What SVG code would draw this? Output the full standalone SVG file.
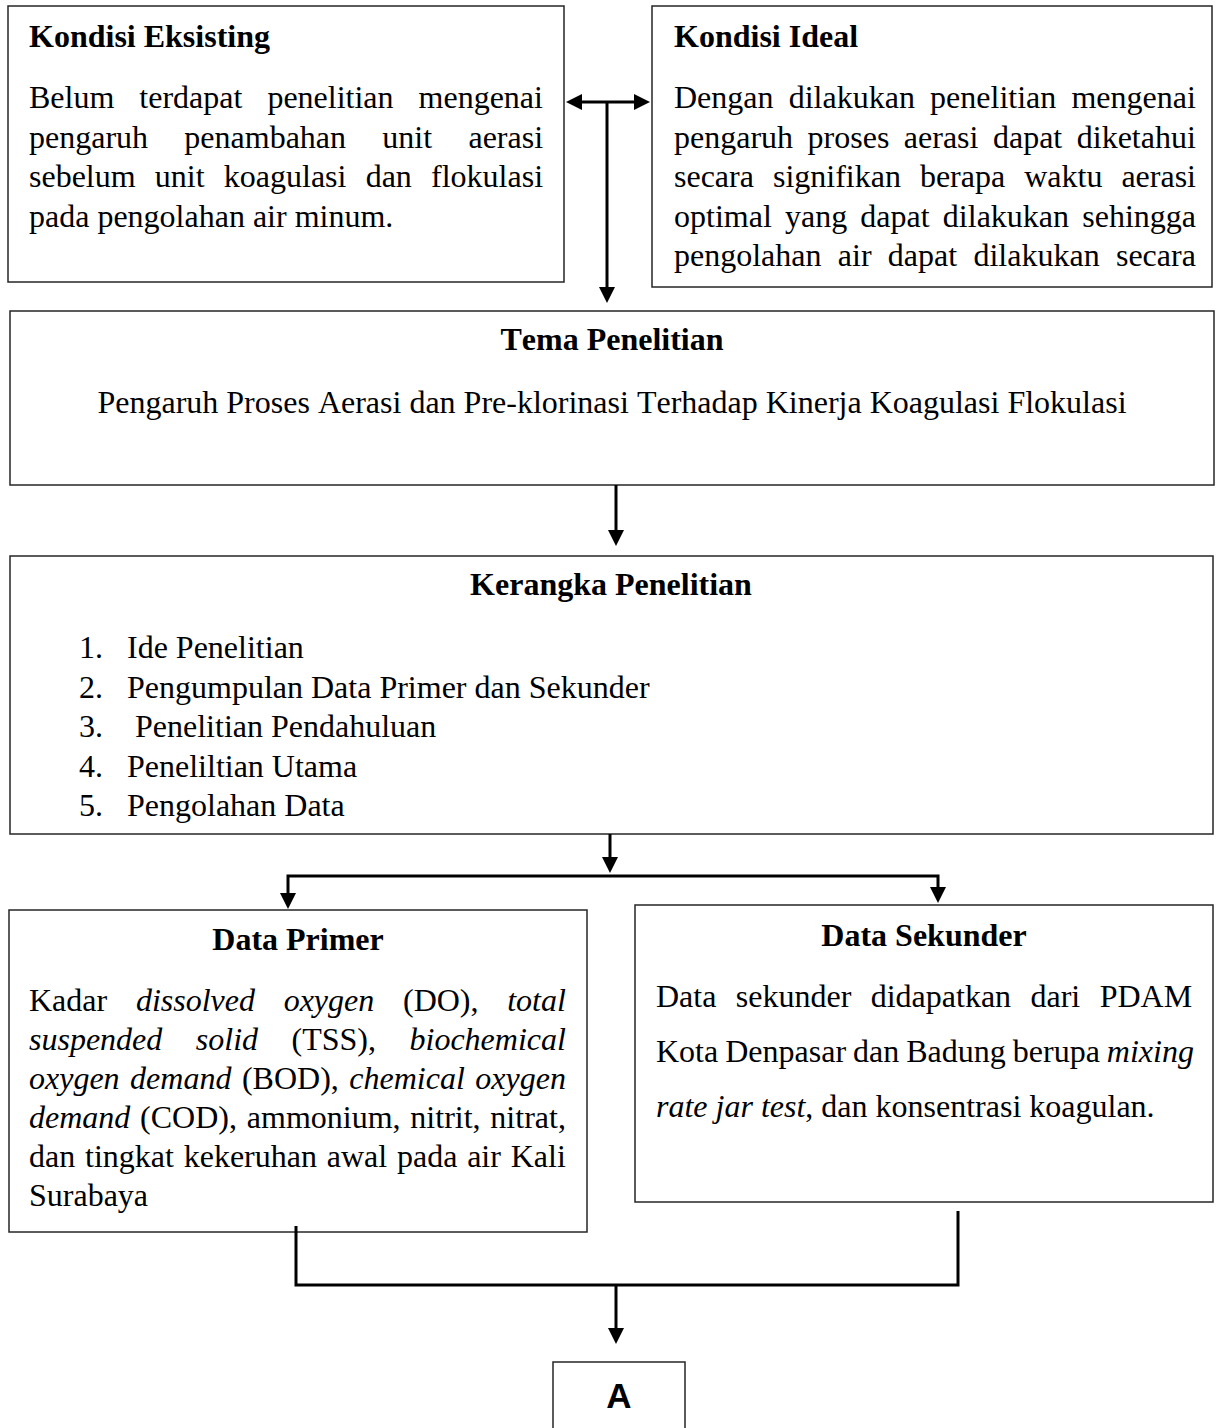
<svg xmlns="http://www.w3.org/2000/svg" width="1217" height="1428" viewBox="0 0 1217 1428">
<style>
.box{fill:#fff;stroke:#262626;stroke-width:1.5}
.t{font-family:"Liberation Serif","Times New Roman",serif;font-size:32px;fill:#000;font-kerning:none}
.b{font-weight:bold}
.i{font-style:italic}
.c{text-anchor:middle}
.conn{fill:none;stroke:#000;stroke-width:3}
.arr{marker-end:url(#ah)}
</style>
<defs>
<marker id="ah" markerUnits="userSpaceOnUse" markerWidth="16" markerHeight="16" refX="0" refY="8" orient="auto-start-reverse" viewBox="0 0 16 16">
<path d="M0,0 L16,8 L0,16 z" fill="#000"/>
</marker>
</defs>
<rect width="1217" height="1428" fill="#fff"/>

<g id="kondisi-eksisting">
<rect class="box" x="8" y="6" width="556" height="276"/>
<text class="t b" x="29" y="47">Kondisi Eksisting</text>
<text class="t" x="29" y="108" word-spacing="17">Belum terdapat penelitian mengenai</text>
<text class="t" x="29" y="147.5" word-spacing="28.3">pengaruh penambahan unit aerasi</text>
<text class="t" x="29" y="187" word-spacing="11.2">sebelum unit koagulasi dan flokulasi</text>
<text class="t" x="29" y="226.5">pada pengolahan air minum.</text>
</g>

<g id="kondisi-ideal">
<rect class="box" x="652" y="6" width="560" height="281"/>
<text class="t b" x="674" y="47">Kondisi Ideal</text>
<text class="t" x="674" y="108" word-spacing="7.2">Dengan dilakukan penelitian mengenai</text>
<text class="t" x="674" y="147.5" word-spacing="6.5">pengaruh proses aerasi dapat diketahui</text>
<text class="t" x="674" y="187" word-spacing="11">secara signifikan berapa waktu aerasi</text>
<text class="t" x="674" y="226.5" word-spacing="5.2">optimal yang dapat dilakukan sehingga</text>
<text class="t" x="674" y="266" word-spacing="8.3">pengolahan air dapat dilakukan secara</text>
</g>

<g id="tema-penelitian">
<rect class="box" x="10" y="311" width="1204" height="174"/>
<text class="t b c" x="612" y="350">Tema Penelitian</text>
<text class="t c" x="612" y="413">Pengaruh Proses Aerasi dan Pre-klorinasi Terhadap Kinerja Koagulasi Flokulasi</text>
</g>

<g id="kerangka-penelitian">
<rect class="box" x="10" y="556" width="1203" height="278"/>
<text class="t b c" x="611" y="595">Kerangka Penelitian</text>
<text class="t" x="79" y="658">1.</text><text class="t" x="127" y="658">Ide Penelitian</text>
<text class="t" x="79" y="697.5">2.</text><text class="t" x="127" y="697.5">Pengumpulan Data Primer dan Sekunder</text>
<text class="t" x="79" y="737">3.</text><text class="t" x="135" y="737">Penelitian Pendahuluan</text>
<text class="t" x="79" y="776.5">4.</text><text class="t" x="127" y="776.5">Peneliltian Utama</text>
<text class="t" x="79" y="816">5.</text><text class="t" x="127" y="816">Pengolahan Data</text>
</g>

<g id="data-primer">
<rect class="box" x="9" y="910" width="578" height="322"/>
<text class="t b c" x="298" y="950">Data Primer</text>
<text class="t" x="29" y="1011" word-spacing="20.7">Kadar <tspan class="i">dissolved oxygen</tspan> (DO), <tspan class="i">total</tspan></text>
<text class="t" x="29" y="1050" word-spacing="25.5"><tspan class="i">suspended solid</tspan> (TSS), <tspan class="i">biochemical</tspan></text>
<text class="t" x="29" y="1089" word-spacing="2.5"><tspan class="i">oxygen demand</tspan> (BOD), <tspan class="i">chemical oxygen</tspan></text>
<text class="t" x="29" y="1128" word-spacing="1.8"><tspan class="i">demand</tspan> (COD), ammonium, nitrit, nitrat,</text>
<text class="t" x="29" y="1167" word-spacing="1.8">dan tingkat kekeruhan awal pada air Kali</text>
<text class="t" x="29" y="1206">Surabaya</text>
</g>

<g id="data-sekunder">
<rect class="box" x="635" y="905" width="578" height="297"/>
<text class="t b c" x="924" y="946">Data Sekunder</text>
<text class="t" x="656" y="1007" word-spacing="11.4">Data sekunder didapatkan dari PDAM</text>
<text class="t" x="656" y="1062" word-spacing="-1">Kota Denpasar dan Badung berupa <tspan class="i">mixing</tspan></text>
<text class="t" x="656" y="1117"><tspan class="i">rate jar test</tspan>, dan konsentrasi koagulan.</text>
</g>

<g id="a">
<rect class="box" x="553" y="1362" width="132" height="90"/>
<text x="619" y="1408" text-anchor="middle" font-family="'Liberation Sans',Arial,sans-serif" font-weight="bold" font-size="35">A</text>
</g>

<g id="connectors">
<path class="conn" d="M582,102 H634" marker-start="url(#ah)" marker-end="url(#ah)"/>
<path class="conn arr" d="M607,102 V287"/>
<path class="conn arr" d="M616,485 V530"/>
<path class="conn arr" d="M610,834 V857"/>
<path class="conn arr" d="M288,893 V876 H938 V887" marker-start="url(#ah)"/>
<path class="conn" d="M296,1226 V1285 H958 V1211"/>
<path class="conn arr" d="M616,1285 V1328"/>
</g>
</svg>
